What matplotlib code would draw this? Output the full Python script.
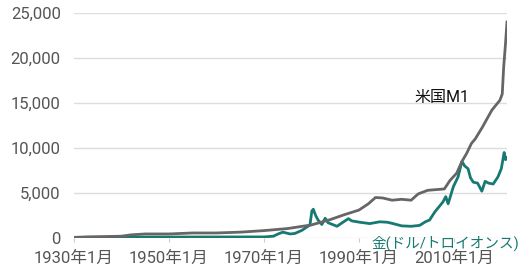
import matplotlib
matplotlib.use("Agg")
import matplotlib.pyplot as plt

plt.rcParams['font.family'] = ['Roboto', 'Noto Sans CJK JP', 'DejaVu Sans']

# US M1 (gray)
m1_year = [1930, 1940, 1942, 1945, 1950, 1955, 1960, 1965, 1970, 1975, 1980, 1984,
           1987, 1990, 1992, 1993.5, 1995, 1997, 1999, 2001, 2002.5, 2004.5, 2008,
           2009.2, 2010.6, 2011.7, 2012.7, 2013.7, 2014.5, 2016, 2018, 2019.7,
           2020.2, 2020.5, 2020.9, 2021.2]
m1_val = [70, 200, 350, 450, 450, 560, 560, 650, 820, 1050, 1450, 2050,
          2600, 3100, 3800, 4500, 4450, 4200, 4300, 4200, 4900, 5300, 5450,
          6400, 7200, 8500, 9400, 10500, 11000, 12300, 14200, 15300,
          16000, 19000, 21700, 24000]

# gold (teal)
gold_year = [1930, 1933, 1970, 1972, 1973, 1974, 1975.5, 1976.5, 1978, 1979.7,
             1980.1, 1980.4, 1980.9, 1981.4, 1982.2, 1982.9, 1983.5, 1985.4,
             1986.5, 1987.8, 1988.5, 1990.2, 1992.3, 1994.4, 1996, 1997.2, 1999,
             2001, 2002.8, 2004, 2004.9, 2006, 2007.7, 2008.3, 2008.8, 2009.9,
             2010.9, 2011.7, 2012.3, 2013, 2013.5, 2014.1, 2015, 2015.9, 2016.6,
             2017.3, 2018.3, 2019.3, 2020, 2020.6, 2020.9, 2021.2]
gold_val = [60, 100, 120, 200, 450, 650, 450, 500, 850, 1450,
            3000, 3200, 2500, 2000, 1500, 2200, 1700, 1300,
            1700, 2150, 1900, 1750, 1600, 1800, 1750, 1600, 1350,
            1300, 1400, 1800, 2000, 2900, 4000, 4600, 3800, 5700,
            6800, 8500, 8000, 7700, 6700, 6200, 6100, 5200, 6300,
            6100, 6000, 6800, 7700, 9500, 8700, 8900]

xticks = [1930, 1950, 1970, 1990, 2010]
xtick_labels = [f"{y}年1月" for y in xticks]
yticks = [0, 5000, 10000, 15000, 20000, 25000]

fig = plt.figure(figsize=(5.3, 2.72), dpi=100)
ax = fig.add_axes([74 / 530, 34 / 272, 433 / 530, 225 / 272])

ax.plot(m1_year, m1_val, color="#666666", lw=2.0, zorder=3)
ax.plot(gold_year, gold_val, color="#167a72", lw=2.0, zorder=2)

ax.set_xlim(1930, 2021.2)
ax.set_ylim(0, 25000)
ax.set_xticks(xticks)
ax.set_xticklabels(xtick_labels)
ax.set_yticks(yticks)
ax.set_yticklabels([f"{v:,}" for v in yticks])
ax.grid(axis="y", color="#dddddd", lw=1)
ax.set_axisbelow(True)
for s in ax.spines.values():
    s.set_visible(False)
ax.tick_params(axis="y", length=0, pad=9.5, labelsize=12, labelcolor="#555555")
ax.tick_params(axis="x", length=3, color="#cccccc", pad=6, labelsize=12, labelcolor="#555555")

ax.text(2001.8, 15560, "米国M1", fontsize=11.5, color="#111111", ha="left", va="center")
ax.text(1992.7, -550, "金(ドル/トロイオンス)", fontsize=10.5, color="#167a72",
        ha="left", va="center", clip_on=False)

fig.savefig("out.png", dpi=100)
